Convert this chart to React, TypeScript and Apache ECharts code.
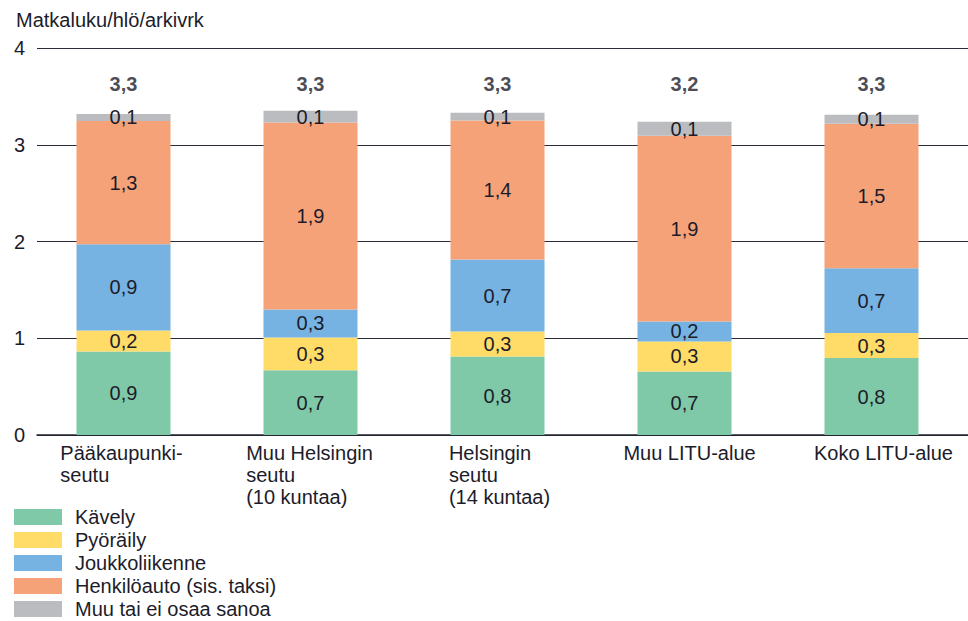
import React, { useEffect, useRef } from "react";
import * as echarts from "echarts";

const TITLE = "Matkaluku/hlö/arkivrk";
const CATEGORIES = [
  "Pääkaupunki-\nseutu",
  "Muu Helsingin\nseutu\n(10 kuntaa)",
  "Helsingin\nseutu\n(14 kuntaa)",
  "Muu LITU-alue",
  "Koko LITU-alue",
];
const SERIES_NAMES = [
  "Kävely",
  "Pyöräily",
  "Joukkoliikenne",
  "Henkilöauto (sis. taksi)",
  "Muu tai ei osaa sanoa",
];
const KAVELY = [0.864, 0.668, 0.812, 0.657, 0.795];
const PYORAILY = [0.216, 0.34, 0.258, 0.31, 0.258];
const JOUKKO = [0.891, 0.289, 0.743, 0.206, 0.671];
const HENKILOAUTO = [1.275, 1.933, 1.438, 1.92, 1.493];
const MUU = [0.072, 0.121, 0.079, 0.144, 0.093];
const TOTALS = [3.3, 3.3, 3.3, 3.2, 3.3];
const Y_TICKS = [0, 1, 2, 3, 4];

const COLORS = ["#7fc9a8", "#ffdc68", "#76b3e2", "#f6a279", "#bbbcc0"];
const TEXT = "#1c1c2a";
const FONT = "'Liberation Sans', Arial, sans-serif";
const FS = 20;
const TOTAL_LABEL_Y = 3.63;
const LABEL_SHIFT = [-2, -1, 2, 5, 12];

const fmt = (v: number) => v.toFixed(1).replace(".", ",");

export default function App() {
  const ref = useRef<HTMLDivElement>(null);
  useEffect(() => {
    if (!ref.current) return;
    const chart = echarts.init(ref.current, undefined, { renderer: "svg" });
    const values = [KAVELY, PYORAILY, JOUKKO, HENKILOAUTO, MUU];
    const gridTop = 48;
    const gridBottom = 186;
    chart.setOption({
      animation: false,
      textStyle: { fontFamily: FONT },
      title: {
        text: TITLE,
        left: 11,
        top: 5,
        textStyle: { fontSize: FS, fontWeight: "normal", color: TEXT, fontFamily: FONT },
      },
      legend: {
        orient: "vertical",
        left: 14,
        top: 507,
        itemWidth: 48,
        itemHeight: 16,
        itemGap: 3,
        padding: 0,
        icon: "rect",
        data: SERIES_NAMES,
        textStyle: { fontSize: FS, color: TEXT, fontFamily: FONT, padding: [0, 0, 0, 8] },
      },
      grid: [
        { left: 37, right: 0, top: gridTop, bottom: gridBottom },
        { left: 30, right: 3, top: gridTop, bottom: gridBottom },
      ],
      xAxis: [
        {
          gridIndex: 0,
          type: "category",
          data: [""],
          axisLine: { show: true, lineStyle: { color: "#23232f", width: 1.5 } },
          axisTick: { show: false },
          axisLabel: { show: false },
        },
        {
          gridIndex: 1,
          type: "category",
          data: CATEGORIES.map((c, i) => ({
            value: c,
            textStyle: {
              padding: [
                0,
                LABEL_SHIFT[i] < 0 ? -LABEL_SHIFT[i] * 2 : 0,
                0,
                LABEL_SHIFT[i] > 0 ? LABEL_SHIFT[i] * 2 : 0,
              ],
            },
          })),
          axisLine: { show: false },
          axisTick: { show: false },
          axisLabel: {
            margin: 7,
            interval: 0,
            formatter: (v: string) =>
              v
                .split("\n")
                .map((l) => "{a|" + l + "}")
                .join("\n"),
            rich: {
              a: {
                fontSize: FS,
                lineHeight: 22,
                color: TEXT,
                fontFamily: FONT,
                align: "left",
              },
            },
          },
        },
      ],
      yAxis: [
        {
          gridIndex: 0,
          type: "value",
          min: Y_TICKS[0],
          max: Y_TICKS[Y_TICKS.length - 1],
          interval: 1,
          axisLine: { show: false },
          axisTick: { show: false },
          axisLabel: { fontSize: FS, color: TEXT, margin: 12, fontFamily: FONT },
          splitLine: { show: true, lineStyle: { color: "#2a2a38", width: 1 } },
        },
        {
          gridIndex: 1,
          type: "value",
          min: Y_TICKS[0],
          max: Y_TICKS[Y_TICKS.length - 1],
          show: false,
          splitLine: { show: false },
        },
      ],
      series: [
        ...values.map((arr, si) => ({
          name: SERIES_NAMES[si],
          type: "bar",
          stack: "total",
          xAxisIndex: 1,
          yAxisIndex: 1,
          barWidth: 94,
          data: arr,
          itemStyle: { color: COLORS[si] },
          label: {
            show: true,
            position: "inside",
            fontSize: FS,
            color: TEXT,
            fontFamily: FONT,
            formatter: (p: any) => fmt(p.value),
          },
        })),
        {
          name: "total",
          type: "scatter",
          xAxisIndex: 1,
          yAxisIndex: 1,
          symbolSize: 0,
          data: TOTALS.map(() => TOTAL_LABEL_Y),
          label: {
            show: true,
            position: "inside",
            fontSize: FS,
            fontWeight: "bold",
            color: TEXT,
            fontFamily: FONT,
            formatter: (p: any) => fmt(TOTALS[p.dataIndex]),
          },
          silent: true,
        },
      ],
    });
    return () => chart.dispose();
  }, []);
  return (
    <div
      ref={ref}
      style={{ position: "absolute", left: 0, top: 0, width: 968, height: 621 }}
    />
  );
}
